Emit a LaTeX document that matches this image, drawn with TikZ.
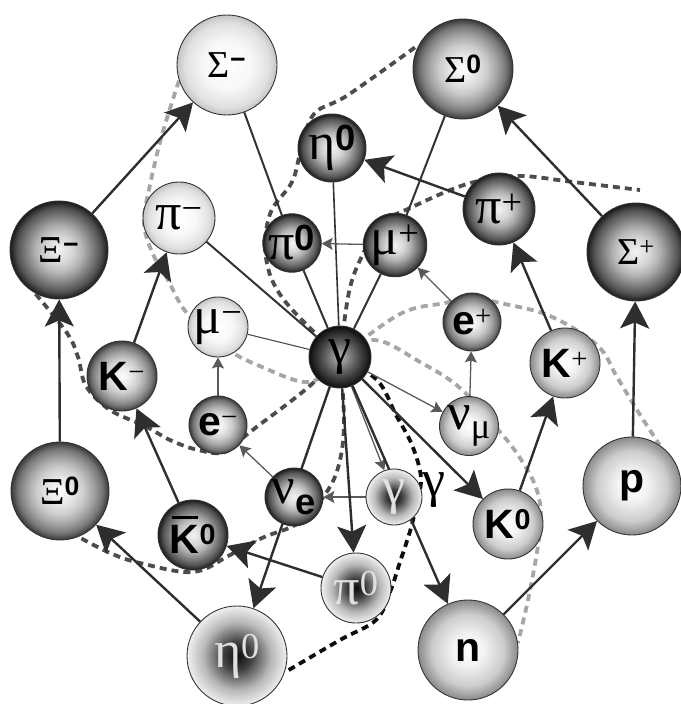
\documentclass[tikz,border=0pt]{standalone}
\usepackage{fontspec}
\setmainfont{Liberation Serif}
\setsansfont{Liberation Sans}
\usetikzlibrary{arrows.meta}

% sphere shadings (the node rim sits at 25bp)
\pgfdeclareradialshading{shPale}{\pgfpoint{0bp}{0bp}}{color(0bp)=(white); color(12bp)=(white!97!black); color(21bp)=(white!88!black); color(25bp)=(white!77!black); color(50bp)=(white!77!black)}
\pgfdeclareradialshading{shLight}{\pgfpoint{0bp}{0bp}}{color(0bp)=(white); color(8bp)=(white!95!black); color(18bp)=(white!80!black); color(25bp)=(white!54!black); color(50bp)=(white!54!black)}
\pgfdeclareradialshading{shMid}{\pgfpoint{0bp}{0bp}}{color(0bp)=(white); color(7bp)=(white!90!black); color(12bp)=(white!80!black); color(17bp)=(white!64!black); color(21.5bp)=(white!46!black); color(25bp)=(black!78); color(50bp)=(black!78)}
\pgfdeclareradialshading{shDark}{\pgfpoint{0bp}{0bp}}{color(0bp)=(white!95!black); color(7bp)=(white!84!black); color(12bp)=(white!70!black); color(17bp)=(white!50!black); color(21.5bp)=(black!68); color(25bp)=(black!90); color(50bp)=(black!90)}
\pgfdeclareradialshading{shDeep}{\pgfpoint{0bp}{0bp}}{color(0bp)=(white!72!black); color(7bp)=(black!48); color(15bp)=(black!70); color(25bp)=(black!95); color(50bp)=(black!95)}
\pgfdeclareradialshading{shInv}{\pgfpoint{0bp}{0bp}}{color(0bp)=(black!95); color(7bp)=(black!75); color(17bp)=(black!28); color(25bp)=(black!6); color(50bp)=(black!6)}

\pgfdeclarelayer{back}
\pgfsetlayers{back,main}

\newcommand{\gkCap}{\fontsize{38}{38}\selectfont}
\newcommand{\gkLow}{\fontsize{52}{52}\selectfont}
\newcommand{\latB}{\fontsize{41}{41}\selectfont\sffamily\bfseries}
\newcommand{\supS}[1]{\textsuperscript{\sffamily\bfseries #1}}
\newcommand{\supR}[1]{\textsuperscript{\normalfont #1}}
\newcommand{\barK}{\makebox[0pt][l]{\hspace{0.06em}\raisebox{0.84em}{\rule{0.62em}{0.07em}}}K}

\begin{document}
\begin{tikzpicture}[x=1pt, y=-1pt, line join=round,
	ball/.style={circle, draw=black!80, line width=0.9pt, inner sep=0pt, text=black},
	sphPale/.style={ball, shading=shPale},
	sphLight/.style={ball, shading=shLight},
	sphMid/.style={ball, shading=shMid},
	sphDark/.style={ball, shading=shDark},
	sphDeep/.style={ball, shading=shDeep},
	sphInv/.style={ball, shading=shInv, text=black!12},
	bigarr/.style={draw=black!82, line width=2.4pt, -{Stealth[length=27pt, width=29pt, inset=6pt]}},
	thinarr/.style={draw=black!65, line width=1.3pt, -{Stealth[length=11pt, width=12pt, inset=2pt]}},
	link/.style={draw=black!80, line width=2pt},
	thinlink/.style={draw=black!70, line width=1.1pt},
	dashDk/.style={draw=black!70, line width=3.8pt, dash pattern=on 7pt off 5pt},
	dashLt/.style={draw=black!35, line width=3.8pt, dash pattern=on 7pt off 5pt},
	dashBk/.style={draw=black!95, line width=3.8pt, dash pattern=on 7pt off 5pt}]
	
	\useasboundingbox (0,0) rectangle (680,704);
	
	% ===============================
	% ========== PARTICLES ==========
	% ===============================
	
	% ---- baryons on the outer ring ----
	\node[sphPale, minimum size=100pt] (SigmaM) at (227,65) {\gkCap Σ\supS{−}};
	\node[sphMid, minimum size=100pt] (SigmaZ) at (463,69) {\gkCap Σ\supS{0}};
	\node[sphDark, minimum size=98pt] (XiM) at (59,250) {\gkCap Ξ\supS{−}};
	\node[sphDark, minimum size=98pt] (SigmaP) at (636,252) {\gkCap Σ\supR{+}};
	\node[sphMid, minimum size=98pt] (XiZ) at (60,491) {\gkCap Ξ\supS{0}};
	\node[sphLight, minimum size=98pt] (p) at (632,486) {\latB p};
	\node[sphLight, minimum size=100pt] (n) at (468,650) {\latB n};
	\node[sphInv, minimum size=100pt] (etaZl) at (237,656) {\gkLow η\supR{0}};
	
	% ---- mesons ----
	\node[sphPale, minimum size=72pt] (piM) at (179,218) {\gkLow π\supR{−}};
	\node[sphDark, minimum size=68pt] (etaZu) at (332,148) {\gkLow η\supS{0}};
	\node[sphDark, minimum size=58pt] (piZu) at (292,243) {\gkLow π\supS{0}};
	\node[sphDark, minimum size=72pt] (piP) at (499,209) {\gkLow π\supR{+}};
	\node[sphMid, minimum size=70pt] (KM) at (122,376) {\latB K\supR{−}};
	\node[sphLight, minimum size=70pt] (KP) at (565,363) {\latB K\supR{+}};
	\node[sphDark, minimum size=70pt] (KbZ) at (193,535) {\latB \barK\supS{0}};
	\node[sphLight, minimum size=70pt] (KZ) at (508,524) {\latB K\supS{0}};
	\node[sphInv, minimum size=70pt] (piZl) at (356,588) {\gkLow π\supR{0}};
	
	% ---- leptons and photons ----
	\node[sphDeep, minimum size=62pt] (gam) at (340,357) {\gkLow γ};
	\node[sphDark, minimum size=56pt] (muP) at (395,245) {\gkLow μ\supR{+}};
	\node[sphPale, minimum size=60pt] (muM) at (218,327) {\gkLow μ\supR{−}};
	\node[sphMid, minimum size=58pt] (eP) at (472,322) {\latB e\supR{+}};
	\node[sphMid, minimum size=58pt] (eM) at (218,425) {\latB e\supR{−}};
	\node[sphLight, minimum size=58pt] (nuMu) at (469,426) {\gkLow ν\textsubscript{μ}};
	\node[sphDark, minimum size=58pt] (nuE) at (294,497) {\gkLow ν\textsubscript{\sffamily\bfseries e}};
	\node[sphInv, minimum size=56pt] (gamL) at (394,497) {\gkLow γ};
	\node (gamTxt) at (434,490) {\gkLow γ};
	
	\coordinate (endB) at (640,190);
	
	\begin{pgfonlayer}{back}
		% ---- dashed chains ----
		\draw[dashDk] plot[smooth, tension=0.6] coordinates
		{(gam.center) (284,300) (266,258) (270,214) (292,182) (301,150) (314,114) (348,95) (SigmaZ.151)};
		\draw[dashDk] plot[smooth, tension=0.6] coordinates
		{(gam.center) (349,292) (362,256) (381,224) (410,208) (467,184) (517,176) (573,182) (endB)};
		\draw[dashLt] plot[smooth, tension=0.6] coordinates
		{(SigmaM.198) (162,135) (150,185) (144,222) (152,252) (168,280) (186,312) (222,346) (262,367) (310,382) (gam.center)};
		\draw[dashLt] plot[smooth, tension=0.6] coordinates
		{(gam.center) (400,314) (445,303) (472,298) (500,303) (550,316) (597,345) (617,377) (637,410) (p.56)};
		\draw[dashLt] plot[smooth, tension=0.6] coordinates
		{(gam.center) (375,340) (420,362) (460,388) (500,432) (518,455) (535,485) (541,515) (537,552) (528,600) (n.8)};
		\draw[dashBk] plot[smooth, tension=0.6] coordinates
		{(gam.center) (377,380) (396,415) (412,445) (421,478) (416,505) (411,528) (400,562) (390,592) (376,620) (340,640) (etaZl.341)};
		\draw[dashDk] plot[smooth, tension=0.6] coordinates
		{(gam.center) (344,420) (340,460) (328,490) (300,522) (262,538) (230,555) (193,572) (140,563) (110,553) (XiZ.292)};
		\draw[dashDk] plot[smooth, tension=0.6] coordinates
		{(gam.center) (305,390) (250,432) (225,452) (198,450) (170,440) (145,426) (110,410) (86,386) (78,357) (67,333) (XiM.241)};
		
		% ---- plain links ----
		\draw[link] (SigmaM) -- (piZu);
		\draw[link] (piZu) -- (gam);
		\draw[link] (piM) -- (gam);
		\draw[link] (muP) -- (gam);
		\draw[link] (SigmaZ) -- (muP);
		\draw[link, line width=1.6pt] (etaZu) -- (gam);
		\draw[thinlink] (muM) -- (gam);
		
		% ---- thin arrows ----
		\draw[thinarr] (eM) -- (muM);
		\draw[thinarr] (nuMu) -- (eP);
		\draw[thinarr] (eP) -- (muP);
		\draw[thinarr] (muP) -- (piZu);
		\draw[thinarr] (nuE) -- (eM);
		\draw[thinarr] (gamL) -- (nuE);
		\draw[thinarr] (gam) -- (nuMu);
		\draw[thinarr] (gam) -- (gamL.110);
		
		% ---- thick arrows ----
		\draw[bigarr] (XiM) -- (SigmaM);
		\draw[bigarr] (XiZ) -- (XiM);
		\draw[bigarr] (KM) -- (piM);
		\draw[bigarr] (KbZ) -- (KM);
		\draw[bigarr] (etaZl) -- (XiZ);
		\draw[bigarr] (piZl) -- (KbZ);
		\draw[bigarr] (gam) -- (etaZl);
		\draw[bigarr] (gam) -- (piZl);
		\draw[bigarr] (gam) -- (KZ);
		\draw[bigarr] (gam) -- (n);
		\draw[bigarr] (n) -- (p);
		\draw[bigarr] (KZ) -- (KP);
		\draw[bigarr] (KP) -- (piP);
		\draw[bigarr] (p) -- (SigmaP);
		\draw[bigarr] (SigmaP) -- (SigmaZ);
		\draw[bigarr] (piP) -- (etaZu);
	\end{pgfonlayer}
	
\end{tikzpicture}
\end{document}
